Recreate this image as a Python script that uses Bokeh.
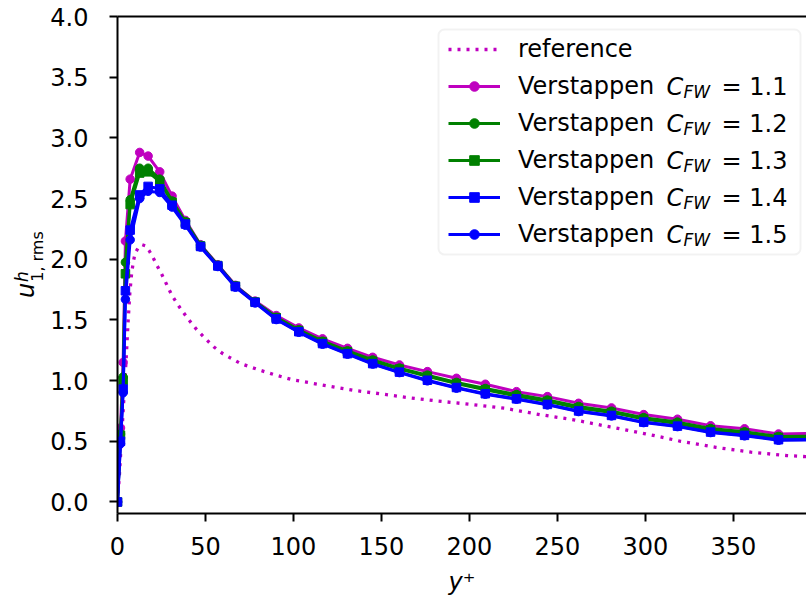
import math
from bokeh.plotting import figure
from bokeh.layouts import row
from bokeh.models import (Range1d, LinearAxis, FixedTicker, Legend, LegendItem,
                          Label, BoxAnnotation)
from bokeh.core.properties import value
from bokeh.embed import file_html
from bokeh.resources import INLINE

# ---------------- data ----------------
ref_x = [0, 1, 2, 3, 4, 5, 6, 7, 8, 9, 10, 12, 14, 16, 18, 20, 22, 25, 28, 31, 35, 40,
         45, 50, 55, 60, 70, 80, 90, 100, 110, 120, 135, 150, 165, 180, 200, 220, 240,
         260, 280, 300, 320, 340, 360, 380, 395]
ref_y = [0, 0.2, 0.45, 0.7, 0.95, 1.2, 1.48, 1.72, 1.88, 1.98, 2.05, 2.10, 2.12, 2.11,
         2.07, 2.02, 1.96, 1.88, 1.79, 1.70, 1.61, 1.51, 1.42, 1.345, 1.275, 1.22, 1.14,
         1.09, 1.045, 1.005, 0.98, 0.955, 0.918, 0.89, 0.86, 0.835, 0.805, 0.772, 0.72,
         0.675, 0.618, 0.562, 0.50, 0.45, 0.41, 0.383, 0.37]

yplus = [0, 1.7, 3.2, 4.5, 7.2, 12.6, 17.4, 24.0, 31.0, 38.6, 47.2, 57.0, 67.0, 78.2,
         90.2, 103.0, 116.5, 130.7, 145.0, 160.2, 176.1, 192.6, 209.0, 226.7, 244.3,
         262.0, 280.7, 299.0, 318.2, 337.0, 356.3, 375.6, 395.0]

cfw_11 = [0, 0.61, 1.15, 2.15, 2.66, 2.88, 2.85, 2.72, 2.52, 2.32, 2.12, 1.955, 1.785,
          1.655, 1.536, 1.434, 1.344, 1.266, 1.192, 1.129, 1.074, 1.019, 0.97, 0.909,
          0.868, 0.813, 0.775, 0.72, 0.682, 0.628, 0.603, 0.56, 0.566]
cfw_12 = [0, 0.56, 1.03, 1.975, 2.49, 2.75, 2.75, 2.66, 2.48, 2.31, 2.115, 1.95, 1.78,
          1.65, 1.522, 1.418, 1.325, 1.245, 1.17, 1.103, 1.045, 0.985, 0.935, 0.885,
          0.84, 0.787, 0.748, 0.695, 0.658, 0.605, 0.578, 0.54, 0.542]
cfw_13 = [0, 0.55, 1.0, 1.88, 2.45, 2.71, 2.72, 2.64, 2.47, 2.30, 2.11, 1.948, 1.778,
          1.647, 1.518, 1.412, 1.318, 1.238, 1.16, 1.095, 1.035, 0.975, 0.925, 0.873,
          0.83, 0.775, 0.738, 0.683, 0.646, 0.595, 0.568, 0.532, 0.534]
cfw_14 = [0, 0.50, 0.93, 1.74, 2.24, 2.53, 2.60, 2.58, 2.445, 2.29, 2.105, 1.945, 1.775,
          1.645, 1.508, 1.403, 1.305, 1.222, 1.14, 1.07, 1.003, 0.943, 0.892, 0.85,
          0.804, 0.75, 0.713, 0.658, 0.625, 0.576, 0.549, 0.513, 0.514]
cfw_15 = [0, 0.48, 0.90, 1.67, 2.16, 2.50, 2.56, 2.55, 2.43, 2.28, 2.10, 1.94, 1.77,
          1.64, 1.503, 1.398, 1.30, 1.218, 1.136, 1.066, 0.998, 0.938, 0.888, 0.847,
          0.80, 0.745, 0.709, 0.654, 0.621, 0.572, 0.545, 0.509, 0.51]

cfw_values = ["1.1", "1.2", "1.3", "1.4", "1.5"]
x_ticks = [0, 50, 100, 150, 200, 250, 300, 350]
y_ticks = [0.0, 0.5, 1.0, 1.5, 2.0, 2.5, 3.0, 3.5, 4.0]
y_tick_labels = ["0.0", "0.5", "1.0", "1.5", "2.0", "2.5", "3.0", "3.5", "4.0"]

# ---------------- styles ----------------
MAG = "#bf00bf"
GRN = "#008000"
BLU = "#0000ff"
FONT = "DejaVu Sans"
FS = "24px"
SUBFS = "17px"
H = 604
YLAB_W = 47
MAIN_W = 806 - YLAB_W
FT, FB = 16, 513   # frame top / bottom in page pixels
FL = 117           # frame left in page pixels

# ---------------- main figure ----------------
p = figure(width=MAIN_W, height=H, output_backend="svg", toolbar_location=None,
           x_range=Range1d(0, 391.5), y_range=Range1d(-0.095, 4.0),
           min_border_left=FL - YLAB_W, min_border_right=0, min_border_top=FT,
           min_border_bottom=H - FB)
p.xgrid.visible = False
p.ygrid.visible = False
p.outline_line_color = None
p.background_fill_color = "white"
p.border_fill_color = "white"

for ax, ticks in ((p.xaxis[0], x_ticks), (p.yaxis[0], y_ticks)):
    ax.ticker = FixedTicker(ticks=ticks)
    ax.axis_line_width = 2
    ax.axis_line_color = "black"
    ax.major_tick_line_width = 2
    ax.major_tick_line_color = "black"
    ax.major_tick_out = 8
    ax.major_tick_in = 0
    ax.minor_tick_line_color = None
    ax.major_label_text_font = FONT
    ax.major_label_text_font_size = FS
    ax.major_label_text_color = "black"
p.yaxis[0].major_label_overrides = {t: s for t, s in zip(y_ticks, y_tick_labels)}
p.yaxis[0].major_label_standoff = 21
p.xaxis[0].major_label_standoff = 15
p.xaxis[0].axis_label = "y\u207a"
p.xaxis[0].axis_label_text_font = FONT
p.xaxis[0].axis_label_text_font_style = "italic"
p.xaxis[0].axis_label_text_font_size = FS
p.xaxis[0].axis_label_text_color = "black"
p.xaxis[0].axis_label_standoff = 10

top = LinearAxis(ticker=FixedTicker(ticks=[]), axis_line_width=2, axis_line_color="black",
                 major_tick_out=0, major_tick_in=0, minor_tick_line_color=None,
                 major_label_standoff=0, major_label_text_font_size="0px")
p.add_layout(top, "above")

# ---------------- data glyphs ----------------
r_ref = p.line(ref_x, ref_y, line_color=MAG, line_width=3.3, line_dash="3 6")

series = [
    (cfw_11, MAG, "circle"),
    (cfw_12, GRN, "circle"),
    (cfw_13, GRN, "square"),
    (cfw_14, BLU, "square"),
    (cfw_15, BLU, "circle"),
]
items = [LegendItem(label="reference", renderers=[r_ref])]
for ys, col, mk in series:
    lr = p.line(yplus, ys, line_color=col, line_width=3)
    sr = p.scatter(yplus, ys, marker=mk, size=8.5, fill_color=col, line_color=col)
    items.append(LegendItem(label="Verstappen", renderers=[lr, sr]))

# ---------------- legend (screen units are frame-relative, y up) ----------------
box = BoxAnnotation(left=438 - FL, right=800 - FL, top=FB - 29, bottom=FB - 254,
                    left_units="screen", right_units="screen",
                    top_units="screen", bottom_units="screen",
                    fill_color="white", fill_alpha=0.8,
                    line_color="#d4d4d4", line_width=2, border_radius=6)
p.add_layout(box)

legend = Legend(items=items, location=(438 - FL, FB - 258), padding=10, spacing=9,
                glyph_width=52, glyph_height=24, label_height=24,
                label_standoff=18, label_width=260, margin=0,
                label_text_font=FONT, label_text_font_size=FS,
                label_text_color="black",
                background_fill_alpha=0, border_line_alpha=0)
p.add_layout(legend)

for i, v in enumerate(cfw_values):
    yc = FB - (86 + 37 * i)
    p.add_layout(Label(x=666 - FL, y=yc, x_units="screen", y_units="screen",
                       text="C", text_font=FONT, text_font_style="italic",
                       text_font_size=FS, text_color="black", text_baseline="middle"))
    p.add_layout(Label(x=683 - FL, y=yc - 5.5, x_units="screen", y_units="screen",
                       text="FW", text_font=FONT, text_font_style="italic",
                       text_font_size=SUBFS, text_color="black",
                       text_baseline="middle"))
    p.add_layout(Label(x=721 - FL, y=yc, x_units="screen", y_units="screen",
                       text="= " + v, text_font=FONT, text_color="black",
                       text_font_size=FS, text_baseline="middle"))

# ---------------- y-axis label (separate narrow figure, no axes) ----------------
# its frame is aligned with the main frame (FT..FB); y coordinate = H - page_y
yl = figure(width=YLAB_W, height=H, output_backend="svg", toolbar_location=None,
            x_range=Range1d(0, YLAB_W), y_range=Range1d(H - FB, H - FT),
            x_axis_type=None, y_axis_type=None,
            min_border_left=0, min_border_right=0,
            min_border_top=FT, min_border_bottom=H - FB)
yl.xgrid.visible = False
yl.ygrid.visible = False
yl.outline_line_color = None
yl.background_fill_color = "white"
yl.border_fill_color = "white"

ang = math.pi / 2
# each piece is anchored at its centre
yl.text(x=[25], y=[H - 290], text=["u"], angle=ang, text_font=value(FONT),
        text_font_style=value("italic"), text_font_size=value(FS),
        text_color="black", text_align="center", text_baseline="middle")
yl.text(x=[21], y=[H - 276], text=["h"], angle=ang, text_font=value(FONT),
        text_font_style=value("italic"), text_font_size=value(SUBFS),
        text_color="black", text_align="center", text_baseline="middle")
yl.text(x=[37], y=[H - 256], text=["1, rms"], angle=ang, text_font=value(FONT),
        text_font_size=value("16px"),
        text_color="black", text_align="center", text_baseline="middle")

layout = row(yl, p)
open("out.html", "w").write(file_html(layout, INLINE))
